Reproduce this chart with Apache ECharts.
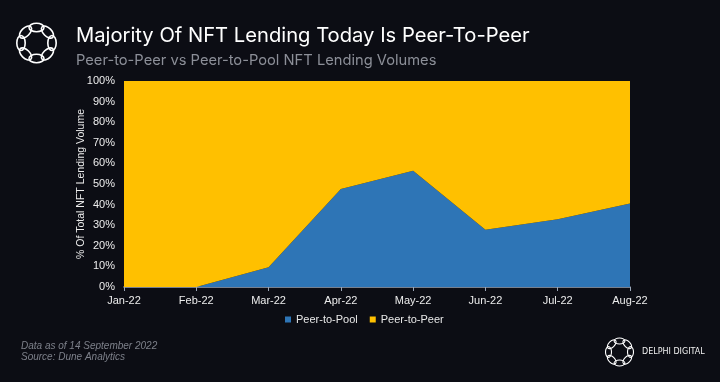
<!DOCTYPE html>
<html><head><meta charset="utf-8">
<script src="https://cdn.jsdelivr.net/npm/echarts@6/dist/echarts.min.js"></script>
<style>html,body{margin:0;padding:0;background:#0c0d14;}#c{width:720px;height:382px;}</style>
</head><body><div id="c"></div>
<script>
const categories = ['Jan-22','Feb-22','Mar-22','Apr-22','May-22','Jun-22','Jul-22','Aug-22'];
const peerToPool = [0, 0, 9.6, 47.6, 56.4, 27.8, 32.9, 40.5];
const peerToPeer = [100, 100, 90.4, 52.4, 43.6, 72.2, 67.1, 59.5];
const yTicks = [0,10,20,30,40,50,60,70,80,90,100];

function ringLogo(cx, cy, d, rx, ry, w) {
  const out = [];
  for (let i = 0; i < 8; i++) {
    const a = i * Math.PI / 4;
    out.push({type:'ellipse', x: cx + d*Math.cos(a), y: cy + d*Math.sin(a), rotation: -(a + Math.PI/2),
      shape:{cx:0, cy:0, rx: rx, ry: ry},
      style:{fill:'none', stroke:'#ffffff', lineWidth:w}, silent:true});
  }
  return out;
}

const chart = echarts.init(document.getElementById('c'));
chart.setOption({
  backgroundColor: '#0c0d14',
  animation: false,
  title: [
    {text: 'Majority Of NFT Lending Today Is Peer-To-Peer', left: 76, top: 26, padding: 0,
     textStyle:{color:'#ffffff', fontSize:20.2, fontWeight:'normal', fontFamily:'Inter'}},
    {text: 'Peer-to-Peer vs Peer-to-Pool NFT Lending Volumes', left: 76, top: 53, padding: 0,
     textStyle:{color:'#8c8f98', fontSize:14.7, fontWeight:'normal', fontFamily:'Inter'}}
  ],
  grid: {left:124, right:90, top:81, bottom:95},
  legend: {
    data:['Peer-to-Pool','Peer-to-Peer'], top:314, left:285, padding:0, itemWidth:6, itemHeight:6, itemGap:12,
    icon:'rect', textStyle:{color:'#e8e8e8', fontSize:11, fontFamily:'Liberation Sans'}
  },
  xAxis: {
    type:'category', data:categories, boundaryGap:false,
    axisLine:{lineStyle:{color:'#9aa6b8', width:1.5}},
    axisTick:{show:true, length:4, lineStyle:{color:'#9aa6b8'}},
    axisLabel:{color:'#ececec', fontSize:11, fontFamily:'Liberation Sans', margin:8}
  },
  yAxis: {
    type:'value', min:0, max:100, interval:10,
    name:'% Of Total NFT Lending Volume', nameLocation:'middle', nameGap:37, nameMoveOverlap:false,
    nameTextStyle:{color:'#ececec', fontSize:10.5, fontFamily:'Liberation Sans'},
    axisLine:{show:false}, axisTick:{show:false}, splitLine:{show:false},
    axisLabel:{color:'#ececec', fontSize:11, fontFamily:'Liberation Sans', margin:9,
      formatter: v => yTicks.includes(v) ? v + '%' : ''}
  },
  series: [
    {name:'Peer-to-Pool', type:'line', stack:'t', data:peerToPool, symbol:'none',
     lineStyle:{width:0}, areaStyle:{color:'#2E75B6', opacity:1}, itemStyle:{color:'#2E75B6'}},
    {name:'Peer-to-Peer', type:'line', stack:'t', data:peerToPeer, symbol:'none',
     lineStyle:{width:0}, areaStyle:{color:'#FFC000', opacity:1}, itemStyle:{color:'#FFC000'}}
  ],
  graphic: [
    ...ringLogo(36.5, 43, 15.5, 7.5, 4.2, 1.6),
    ...ringLogo(619.5, 352, 11, 5.4, 3, 1.1),
    {type:'text', left:642, top:348, style:{text:'DELPHI DIGITAL', fill:'#f0f0f0', fontSize:8, fontFamily:'DejaVu Sans', letterSpacing:1.4}},
    {type:'text', left:21, top:341, style:{text:'Data as of 14 September 2022', fill:'#7d808a', fontSize:10, fontStyle:'italic', fontFamily:"'Liberation Sans Narrow', 'Liberation Sans'"}},
    {type:'text', left:21, top:352, style:{text:'Source: Dune Analytics', fill:'#7d808a', fontSize:10, fontStyle:'italic', fontFamily:"'Liberation Sans Narrow', 'Liberation Sans'"}}
  ]
});
</script></body></html>
